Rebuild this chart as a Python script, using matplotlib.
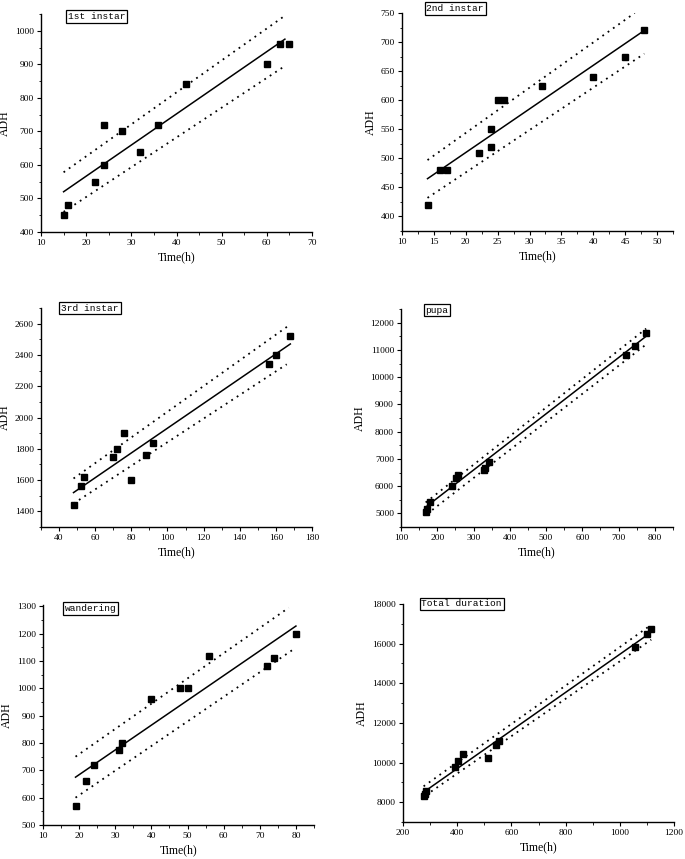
import numpy as np
import matplotlib.pyplot as plt
from matplotlib.ticker import MultipleLocator, AutoMinorLocator

# panel names
labels = ['1st instar', '2nd instar', '3rd instar', 'pupa', 'wandering', 'Total duration']

# observed points (time, ADH)
t1 = [15, 16, 22, 24, 24, 28, 32, 36, 42, 60, 63, 65]
a1 = [450, 480, 550, 720, 600, 700, 640, 720, 840, 900, 960, 960]
t2 = [14, 16, 17, 22, 24, 24, 25, 26, 32, 40, 45, 48]
a2 = [420, 480, 480, 510, 520, 550, 600, 600, 625, 640, 675, 720]
t3 = [48, 52, 54, 70, 72, 76, 80, 88, 92, 156, 160, 168]
a3 = [1440, 1560, 1620, 1750, 1800, 1900, 1600, 1760, 1840, 2340, 2400, 2520]
t4 = [168, 172, 180, 240, 252, 256, 328, 332, 344, 720, 744, 776]
a4 = [5050, 5150, 5400, 6000, 6300, 6400, 6580, 6650, 6880, 10800, 11150, 11630]
t5 = [19, 22, 24, 31, 32, 40, 48, 50, 56, 72, 74, 80]
a5 = [570, 660, 720, 775, 800, 960, 1000, 1000, 1120, 1080, 1110, 1200]
t6 = [276, 280, 284, 392, 404, 420, 512, 544, 554, 1056, 1100, 1116]
a6 = [8300, 8400, 8550, 9800, 10100, 10450, 10250, 10900, 11100, 15850, 16500, 16720]

# fitted line and band ends: (x0, x1, y0, y1)
fit1 = (15, 64, 520, 975)
up1 = (15, 64, 578, 1045)
lo1 = (15, 64, 460, 895)
fit2 = (14, 48, 465, 720)
up2 = (14, 46.5, 497, 750)
lo2 = (14, 48, 432, 680)
fit3 = (48, 168, 1520, 2470)
up3 = (48, 168, 1610, 2595)
lo3 = (48, 166, 1450, 2340)
fit4 = (170, 776, 5250, 11500)
up4 = (168, 776, 5400, 11780)
lo4 = (172, 776, 4980, 11200)
fit5 = (19, 80, 675, 1228)
up5 = (19, 78, 750, 1295)
lo5 = (19, 79, 600, 1140)
fit6 = (284, 1110, 8580, 16520)
up6 = (276, 1116, 8800, 16950)
lo6 = (284, 1116, 8350, 16200)

xlims = [(10, 70), (10, 52.5), (30, 180), (100, 850), (10, 85), (200, 1200)]
ylims = [(400, 1050), (375, 750), (1300, 2700), (4500, 12500), (500, 1305), (7000, 18000)]
xsteps = [10, 5, 20, 100, 10, 200]
ysteps = [100, 50, 200, 1000, 100, 2000]

# axes boxes in pixels: left, right, top, bottom
boxes = [(41, 312, 14, 232), (402, 673, 13, 231),
         (41, 312, 308, 527), (401, 673, 309, 527),
         (43, 314, 605, 825), (403, 674, 604, 822)]
# label box offsets (axes fraction)
tag_x = [0.10, 0.09, 0.075, 0.09, 0.08, 0.068]
tag_y = [0.99, 1.02, 1.0, 0.995, 0.985, 1.0]

W, H = 685, 859
fig = plt.figure(figsize=(W/100, H/100), dpi=100)

serif = 'Liberation Serif'
data = [(t1, a1, fit1, up1, lo1), (t2, a2, fit2, up2, lo2), (t3, a3, fit3, up3, lo3),
        (t4, a4, fit4, up4, lo4), (t5, a5, fit5, up5, lo5), (t6, a6, fit6, up6, lo6)]

for i in range(6):
    l, r, t, b = boxes[i]
    ax = fig.add_axes([l/W, 1-b/H, (r-l)/W, (b-t)/H])
    tx, ay, fit, up, lo = data[i]

    ax.plot(up[:2], up[2:], color='black', linestyle=(0, (1, 2.6)), linewidth=1.3)
    ax.plot(lo[:2], lo[2:], color='black', linestyle=(0, (1, 2.6)), linewidth=1.3)
    ax.plot(fit[:2], fit[2:], color='black', linewidth=1.1)
    ax.plot(tx, ay, 's', color='black', markersize=4.2, clip_on=False)

    ax.set_xlim(xlims[i])
    ax.set_ylim(ylims[i])
    ax.xaxis.set_major_locator(MultipleLocator(xsteps[i]))
    ax.yaxis.set_major_locator(MultipleLocator(ysteps[i]))
    ax.xaxis.set_minor_locator(AutoMinorLocator(2))
    ax.yaxis.set_minor_locator(AutoMinorLocator(2))

    ax.spines['top'].set_visible(False)
    ax.spines['right'].set_visible(False)
    ax.spines['left'].set_linewidth(1.0)
    ax.spines['bottom'].set_linewidth(1.0)
    ax.tick_params(which='major', direction='out', length=3, width=0.8, labelsize=6.8, pad=2)
    ax.tick_params(which='minor', direction='out', length=1.8, width=0.6)
    for lab in ax.get_xticklabels() + ax.get_yticklabels():
        lab.set_fontfamily(serif)

    ax.set_xlabel('Time(h)', fontsize=8.5, family=serif, labelpad=3)
    ax.set_ylabel('ADH', fontsize=8.5, family=serif, labelpad=3)

    ax.text(tag_x[i], tag_y[i], labels[i], transform=ax.transAxes, ha='left', va='center',
            fontsize=6.8, family='Liberation Mono',
            bbox=dict(boxstyle='square,pad=0.2', facecolor='white', edgecolor='black', linewidth=0.9))

plt.savefig('out.png', dpi=100)
